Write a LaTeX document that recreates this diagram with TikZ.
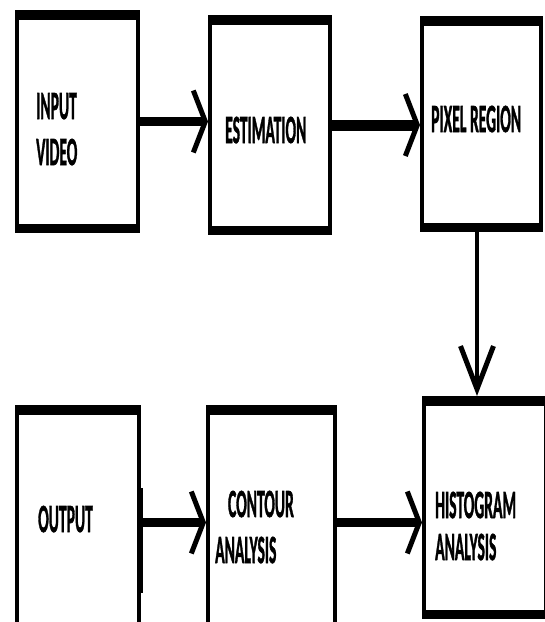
\documentclass[tikz,border=0pt]{standalone}
\usepackage{fontspec}
\usepackage{graphicx}
\usetikzlibrary{arrows.meta}
\newfontfamily\blockfont{Carlito}[UprightFont={* Bold}, FakeBold=1.8]
\newcommand{\blocklabel}[1]{\scalebox{0.39}[1]{\begin{tabular}[t]{@{}l@{}}#1\end{tabular}}}

\begin{document}
\begin{tikzpicture}[x=1pt, y=-1pt,
      block/.style={draw=black, fill=white, line width=4pt, inner sep=0pt},
      lbl/.style={font=\blockfont\fontsize{40}{46}\selectfont,
                  inner sep=0pt, anchor=base west},
      flow/.style={draw=black, line width=9pt,
                   -{Straight Barb[length=12pt, width=62pt, line width=5pt]}},
      drop/.style={draw=black, line width=4pt,
                   -{Straight Barb[length=43pt, width=33pt, line width=5pt]}},
    ]
    \useasboundingbox (0,0) rectangle (545,622);
    \clip (0,0) rectangle (545,622);
    %% top row
    \node[block, minimum width=121pt, minimum height=219pt] (vid) at (77.5,121.5) {};
    \node[block, minimum width=120pt, minimum height=216pt] (est) at (270,125) {};
    \node[block, minimum width=119pt, minimum height=212pt] (pix) at (481.5,124) {};
    %% bottom row (cut off by the lower edge)
    \node[block, minimum width=122pt, minimum height=231pt] (out) at (78,522.5) {};
    \node[block, minimum width=127pt, minimum height=231pt] (con) at (271.5,522.5) {};
    \node[block, minimum width=122pt, minimum height=219pt] (his) at (485,507.5) {};
    %% thick bars
    \foreach \n in {vid,est,pix,out,con,his}
      \fill (\n.north west) rectangle ([yshift=-10pt]\n.north east);
    \foreach \n in {vid,est,pix,his}
      \fill ([yshift=9pt]\n.south west) rectangle (\n.south east);
    \fill ([xshift=-2pt, yshift=34.5pt]out.east) rectangle ([xshift=2pt, yshift=-70.5pt]out.east);
    %% labels
    \node[lbl] (t-vid) at (36,119) {\blocklabel{INPUT\\VIDEO}};
    \node[lbl] (t-est) at (225,143) {\blocklabel{ESTIMATION}};
    \node[lbl] (t-pix) at (431,132) {\blocklabel{PIXEL REGION}};
    \node[lbl] (t-out) at (38,532) {\blocklabel{OUTPUT}};
    \node[lbl] (t-con) at (215,517) {\blocklabel{\hspace*{33pt}CONTOUR\\ANALYSIS}};
    \node[lbl] (t-his) at (435,518) {\blocklabel{HISTOGRAM\\[-4pt]ANALYSIS}};
    %% connectors
    \draw[flow] (vid.east) -- (vid.east -| est.west);
    \draw[flow, line width=11pt] (est.east) -- (est.east -| pix.west);
    \draw[drop] ([xshift=-4.5pt]pix.south) -- ([xshift=-4.5pt]pix.south |- his.north);
    \draw[flow] (out.east) -- (out.east -| con.west);
    \draw[flow] (con.east) -- (con.east -| his.west);
\end{tikzpicture}
\end{document}
